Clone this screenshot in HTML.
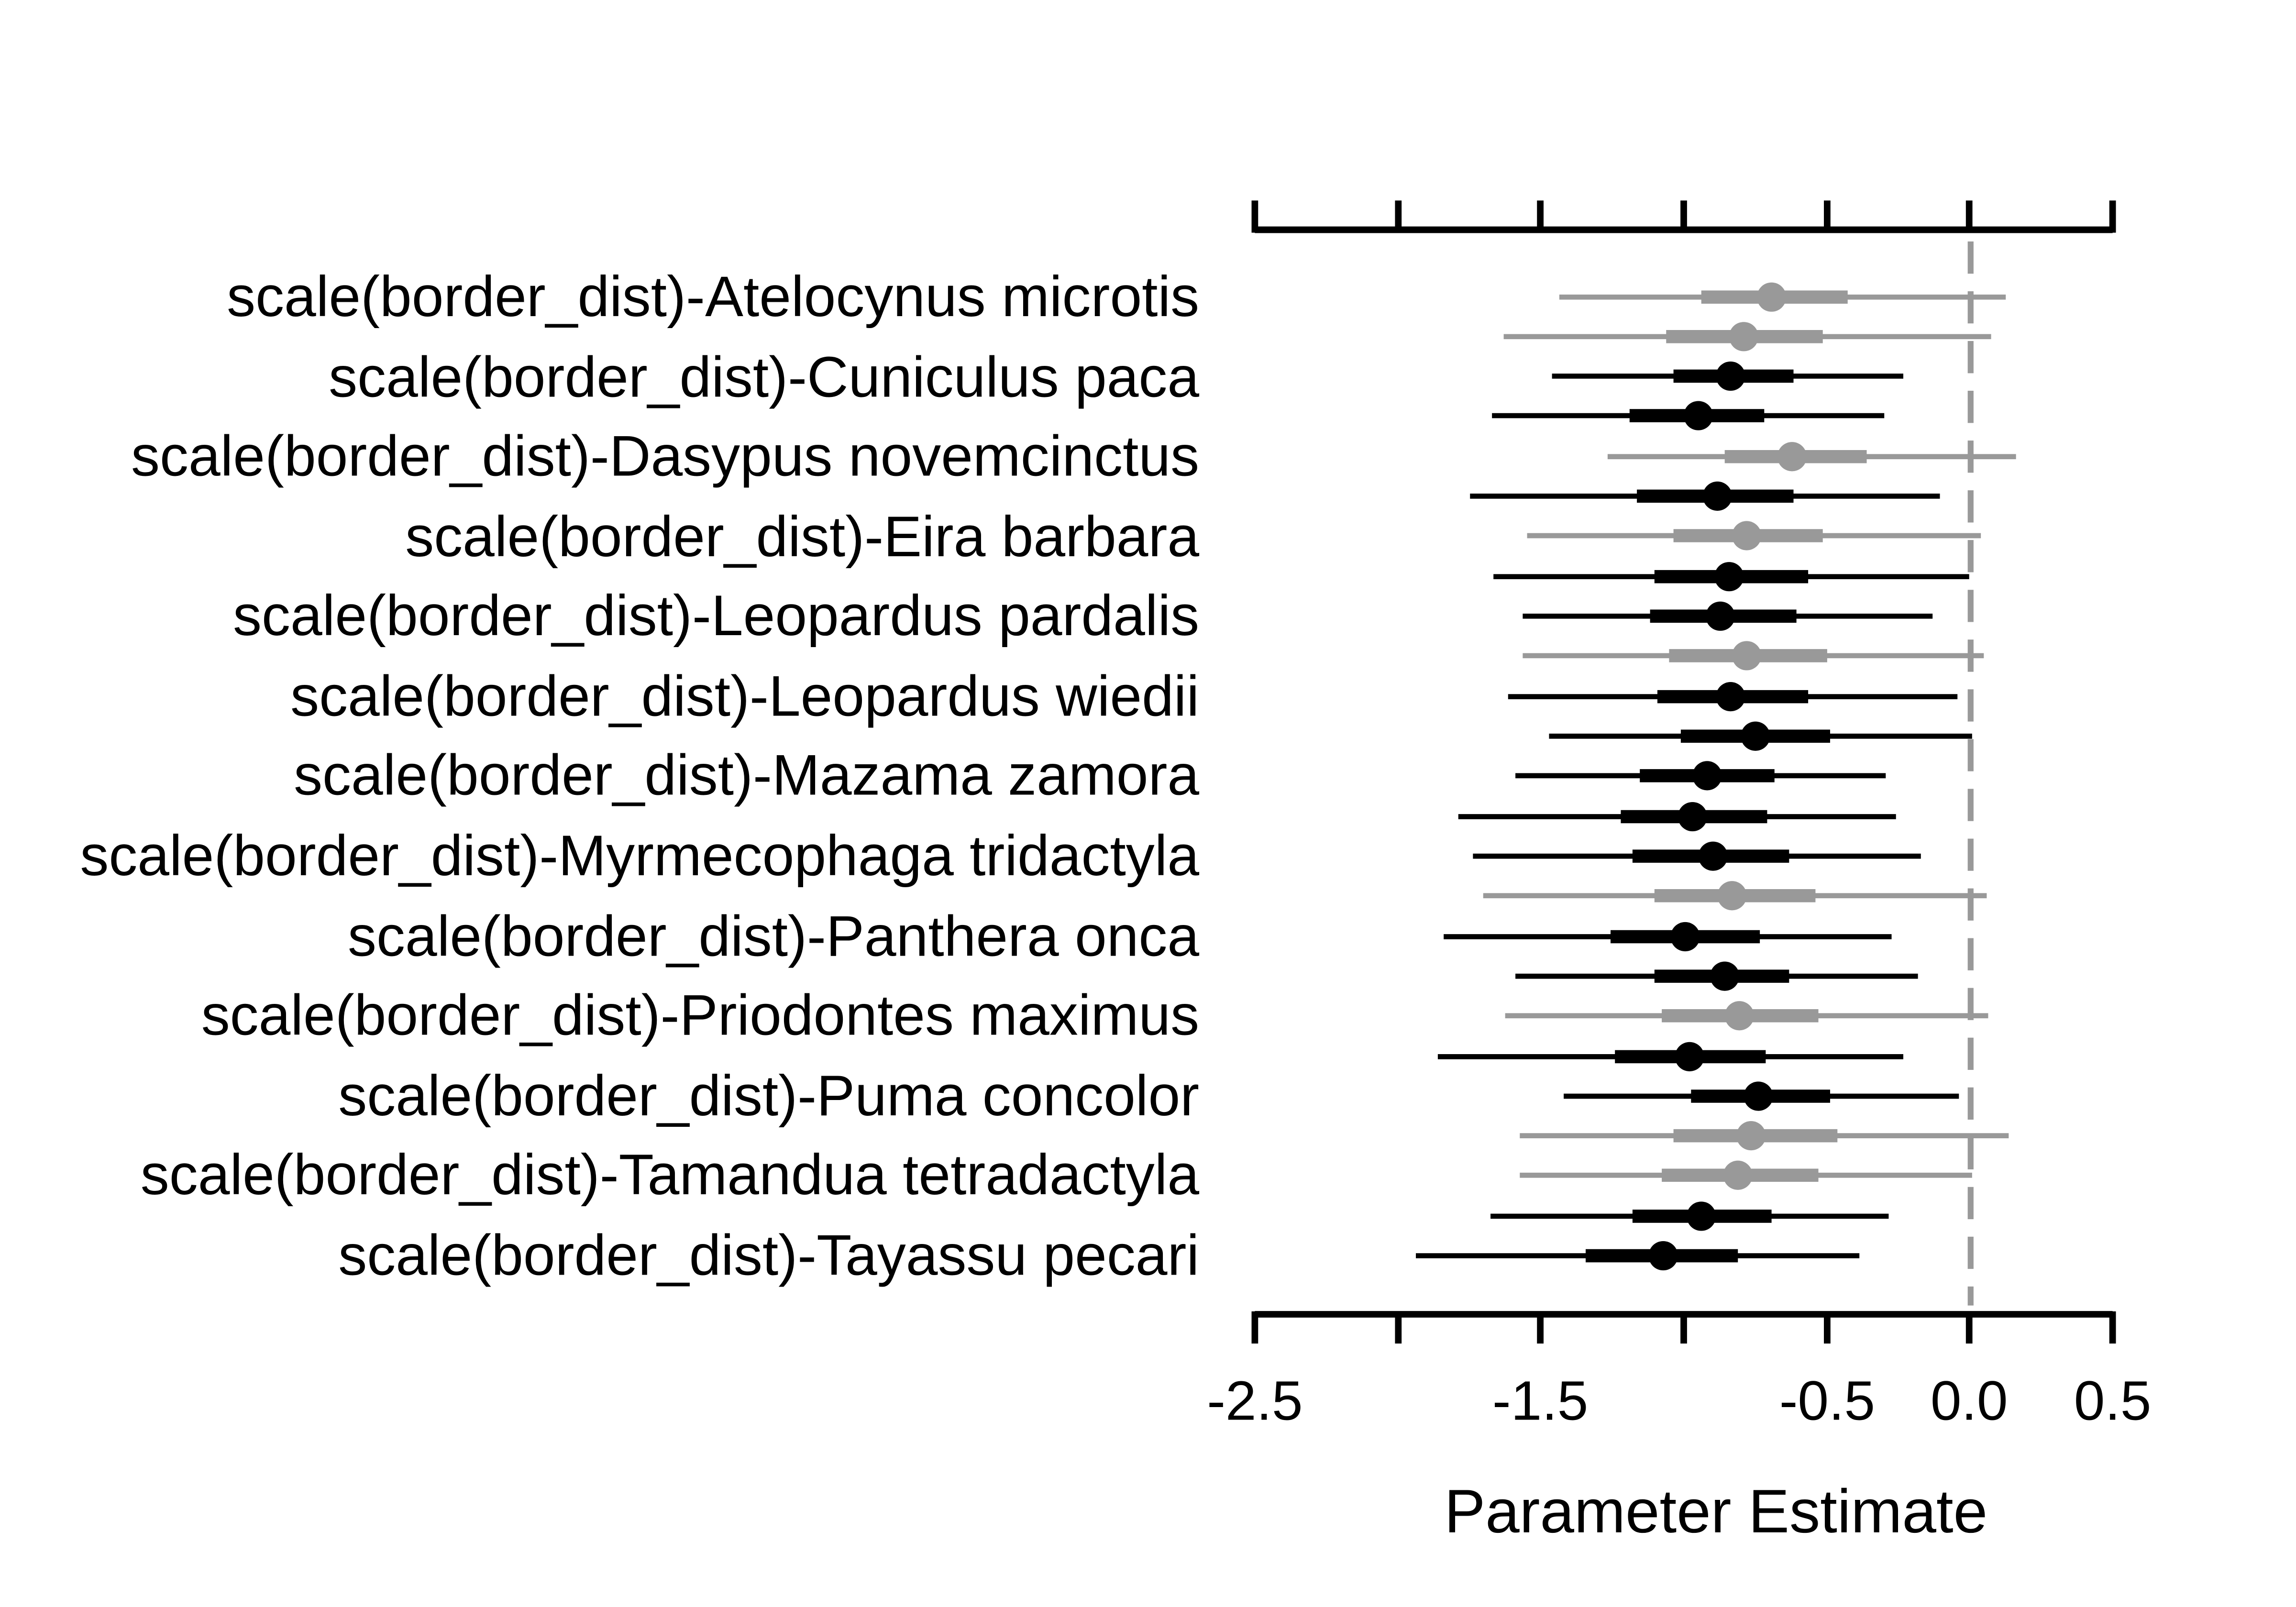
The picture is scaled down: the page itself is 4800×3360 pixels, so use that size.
<!DOCTYPE html>
<html><head><meta charset="utf-8"><style>
html,body{margin:0;padding:0;background:#fff;}
svg{display:block;}
text{font-family:"Liberation Sans",Arial,sans-serif;}
</style></head><body>
<svg width="4800" height="3360" viewBox="0 0 1568 1098" xmlns="http://www.w3.org/2000/svg">
<rect width="1568" height="1098" fill="#fff"/>
<g stroke="#000" stroke-width="4.5" fill="none">
<line x1="857" y1="157" x2="1443" y2="157"/>
<line x1="857" y1="898" x2="1443" y2="898"/>
<line x1="857" y1="137" x2="857" y2="159"/><line x1="955" y1="137" x2="955" y2="159"/><line x1="1052" y1="137" x2="1052" y2="159"/><line x1="1150" y1="137" x2="1150" y2="159"/><line x1="1248" y1="137" x2="1248" y2="159"/><line x1="1345" y1="137" x2="1345" y2="159"/><line x1="1443" y1="137" x2="1443" y2="159"/>
<line x1="857" y1="896" x2="857" y2="918"/><line x1="955" y1="896" x2="955" y2="918"/><line x1="1052" y1="896" x2="1052" y2="918"/><line x1="1150" y1="896" x2="1150" y2="918"/><line x1="1248" y1="896" x2="1248" y2="918"/><line x1="1345" y1="896" x2="1345" y2="918"/><line x1="1443" y1="896" x2="1443" y2="918"/>
</g>
<line x1="1346" y1="165" x2="1346" y2="892" stroke="#999" stroke-width="4" stroke-dasharray="22,12"/>
<g font-size="38" text-anchor="middle" fill="#000">
<text x="857" y="970">-2.5</text><text x="1052" y="970">-1.5</text><text x="1248" y="970">-0.5</text><text x="1345" y="970">0.0</text><text x="1443" y="970">0.5</text>
<text x="1172" y="1047" font-size="42">Parameter Estimate</text>
</g>
<g font-size="39.2" text-anchor="end" fill="#000">
<text x="819" y="216">scale(border_dist)-Atelocynus microtis</text>
<text x="819" y="271">scale(border_dist)-Cuniculus paca</text>
<text x="819" y="325">scale(border_dist)-Dasypus novemcinctus</text>
<text x="819" y="380">scale(border_dist)-Eira barbara</text>
<text x="819" y="434">scale(border_dist)-Leopardus pardalis</text>
<text x="819" y="489">scale(border_dist)-Leopardus wiedii</text>
<text x="819" y="543">scale(border_dist)-Mazama zamora</text>
<text x="819" y="598">scale(border_dist)-Myrmecophaga tridactyla</text>
<text x="819" y="653">scale(border_dist)-Panthera onca</text>
<text x="819" y="707">scale(border_dist)-Priodontes maximus</text>
<text x="819" y="762">scale(border_dist)-Puma concolor</text>
<text x="819" y="816">scale(border_dist)-Tamandua tetradactyla</text>
<text x="819" y="871">scale(border_dist)-Tayassu pecari</text>
</g>
<g>
<g stroke="#999" fill="#999"><line x1="1065" x2="1370" y1="203" y2="203" stroke-width="3.5"/><line x1="1162" x2="1262" y1="203" y2="203" stroke-width="9"/><circle cx="1210" cy="203" r="10" stroke="none"/></g>
<g stroke="#999" fill="#999"><line x1="1027" x2="1360" y1="230" y2="230" stroke-width="3.5"/><line x1="1138" x2="1245" y1="230" y2="230" stroke-width="9"/><circle cx="1191" cy="230" r="10" stroke="none"/></g>
<g stroke="#000" fill="#000"><line x1="1060" x2="1300" y1="257" y2="257" stroke-width="3.5"/><line x1="1143" x2="1225" y1="257" y2="257" stroke-width="9"/><circle cx="1182" cy="257" r="10" stroke="none"/></g>
<g stroke="#000" fill="#000"><line x1="1019" x2="1287" y1="284" y2="284" stroke-width="3.5"/><line x1="1113" x2="1205" y1="284" y2="284" stroke-width="9"/><circle cx="1160" cy="284" r="10" stroke="none"/></g>
<g stroke="#999" fill="#999"><line x1="1098" x2="1377" y1="312" y2="312" stroke-width="3.5"/><line x1="1178" x2="1275" y1="312" y2="312" stroke-width="9"/><circle cx="1224" cy="312" r="10" stroke="none"/></g>
<g stroke="#000" fill="#000"><line x1="1004" x2="1325" y1="339" y2="339" stroke-width="3.5"/><line x1="1118" x2="1225" y1="339" y2="339" stroke-width="9"/><circle cx="1173" cy="339" r="10" stroke="none"/></g>
<g stroke="#999" fill="#999"><line x1="1043" x2="1353" y1="366" y2="366" stroke-width="3.5"/><line x1="1143" x2="1245" y1="366" y2="366" stroke-width="9"/><circle cx="1193" cy="366" r="10" stroke="none"/></g>
<g stroke="#000" fill="#000"><line x1="1020" x2="1345" y1="394" y2="394" stroke-width="3.5"/><line x1="1130" x2="1235" y1="394" y2="394" stroke-width="9"/><circle cx="1181" cy="394" r="10" stroke="none"/></g>
<g stroke="#000" fill="#000"><line x1="1040" x2="1320" y1="421" y2="421" stroke-width="3.5"/><line x1="1127" x2="1227" y1="421" y2="421" stroke-width="9"/><circle cx="1175" cy="421" r="10" stroke="none"/></g>
<g stroke="#999" fill="#999"><line x1="1040" x2="1355" y1="448" y2="448" stroke-width="3.5"/><line x1="1140" x2="1248" y1="448" y2="448" stroke-width="9"/><circle cx="1193" cy="448" r="10" stroke="none"/></g>
<g stroke="#000" fill="#000"><line x1="1030" x2="1337" y1="476" y2="476" stroke-width="3.5"/><line x1="1132" x2="1235" y1="476" y2="476" stroke-width="9"/><circle cx="1182" cy="476" r="10" stroke="none"/></g>
<g stroke="#000" fill="#000"><line x1="1058" x2="1347" y1="503" y2="503" stroke-width="3.5"/><line x1="1148" x2="1250" y1="503" y2="503" stroke-width="9"/><circle cx="1199" cy="503" r="10" stroke="none"/></g>
<g stroke="#000" fill="#000"><line x1="1035" x2="1288" y1="530" y2="530" stroke-width="3.5"/><line x1="1120" x2="1212" y1="530" y2="530" stroke-width="9"/><circle cx="1166" cy="530" r="10" stroke="none"/></g>
<g stroke="#000" fill="#000"><line x1="996" x2="1295" y1="558" y2="558" stroke-width="3.5"/><line x1="1107" x2="1207" y1="558" y2="558" stroke-width="9"/><circle cx="1156" cy="558" r="10" stroke="none"/></g>
<g stroke="#000" fill="#000"><line x1="1006" x2="1312" y1="585" y2="585" stroke-width="3.5"/><line x1="1115" x2="1222" y1="585" y2="585" stroke-width="9"/><circle cx="1170" cy="585" r="10" stroke="none"/></g>
<g stroke="#999" fill="#999"><line x1="1013" x2="1357" y1="612" y2="612" stroke-width="3.5"/><line x1="1130" x2="1240" y1="612" y2="612" stroke-width="9"/><circle cx="1183" cy="612" r="10" stroke="none"/></g>
<g stroke="#000" fill="#000"><line x1="986" x2="1292" y1="640" y2="640" stroke-width="3.5"/><line x1="1100" x2="1202" y1="640" y2="640" stroke-width="9"/><circle cx="1151" cy="640" r="10" stroke="none"/></g>
<g stroke="#000" fill="#000"><line x1="1035" x2="1310" y1="667" y2="667" stroke-width="3.5"/><line x1="1130" x2="1222" y1="667" y2="667" stroke-width="9"/><circle cx="1178" cy="667" r="10" stroke="none"/></g>
<g stroke="#999" fill="#999"><line x1="1028" x2="1358" y1="694" y2="694" stroke-width="3.5"/><line x1="1135" x2="1242" y1="694" y2="694" stroke-width="9"/><circle cx="1188" cy="694" r="10" stroke="none"/></g>
<g stroke="#000" fill="#000"><line x1="982" x2="1300" y1="722" y2="722" stroke-width="3.5"/><line x1="1103" x2="1206" y1="722" y2="722" stroke-width="9"/><circle cx="1154" cy="722" r="10" stroke="none"/></g>
<g stroke="#000" fill="#000"><line x1="1068" x2="1338" y1="749" y2="749" stroke-width="3.5"/><line x1="1155" x2="1250" y1="749" y2="749" stroke-width="9"/><circle cx="1201" cy="749" r="10" stroke="none"/></g>
<g stroke="#999" fill="#999"><line x1="1038" x2="1372" y1="776" y2="776" stroke-width="3.5"/><line x1="1143" x2="1255" y1="776" y2="776" stroke-width="9"/><circle cx="1196" cy="776" r="10" stroke="none"/></g>
<g stroke="#999" fill="#999"><line x1="1038" x2="1347" y1="803" y2="803" stroke-width="3.5"/><line x1="1135" x2="1242" y1="803" y2="803" stroke-width="9"/><circle cx="1187" cy="803" r="10" stroke="none"/></g>
<g stroke="#000" fill="#000"><line x1="1018" x2="1290" y1="831" y2="831" stroke-width="3.5"/><line x1="1115" x2="1210" y1="831" y2="831" stroke-width="9"/><circle cx="1162" cy="831" r="10" stroke="none"/></g>
<g stroke="#000" fill="#000"><line x1="967" x2="1270" y1="858" y2="858" stroke-width="3.5"/><line x1="1083" x2="1187" y1="858" y2="858" stroke-width="9"/><circle cx="1136" cy="858" r="10" stroke="none"/></g>
</g>
</svg>
</body></html>
